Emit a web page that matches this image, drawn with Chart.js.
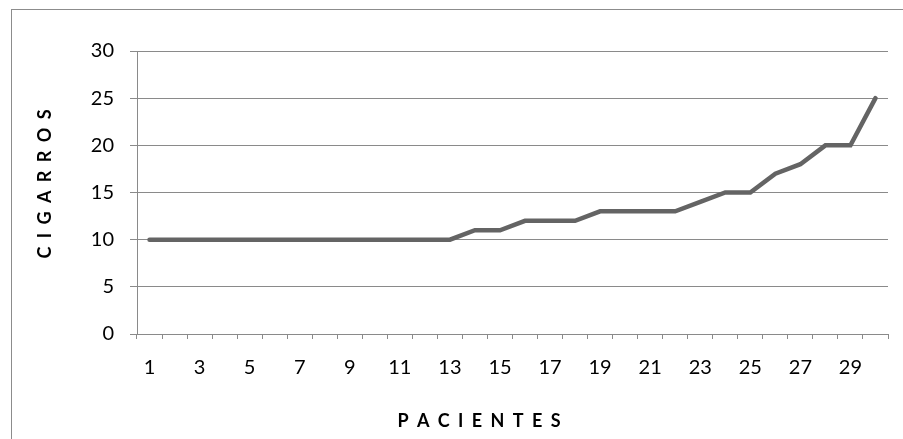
<!DOCTYPE html>
<html>
<head>
<meta charset="utf-8">
<script src="https://cdn.jsdelivr.net/npm/chart.js@4/dist/chart.umd.min.js"></script>
<style>
  html, body { margin: 0; padding: 0; background: #ffffff; }
  #wrap { width: 903px; height: 439px; position: relative; }
</style>
</head>
<body>
<div id="wrap"><canvas id="c" width="903" height="439"></canvas></div>
<script>
const categories = ['1','2','3','4','5','6','7','8','9','10','11','12','13','14','15','16','17','18','19','20','21','22','23','24','25','26','27','28','29','30'];
const cigarros = [10,10,10,10,10,10,10,10,10,10,10,10,10,11,11,12,12,12,13,13,13,13,14,15,15,17,18,20,20,25];
const yTicks = [0,5,10,15,20,25,30];
const xTitle = 'P A C I E N T E S';
const yTitle = 'C I G A R R O S';

const GRID = '#8a8a8a';
const FONT = 'Lato, "Open Sans", sans-serif';

const decor = {
  id: 'decor',
  beforeDraw(chart) {
    const ctx = chart.ctx;
    ctx.save();
    ctx.fillStyle = '#ffffff';
    ctx.fillRect(0, 0, chart.width, chart.height);
    ctx.strokeStyle = '#8c8c8c';
    ctx.lineWidth = 1;
    ctx.strokeRect(11.5, 9.5, 1000, 1000);
    ctx.restore();
  },
  afterDraw(chart) {
    const ctx = chart.ctx;
    ctx.save();
    ctx.fillStyle = '#000000';
    ctx.font = 'bold 18px ' + FONT;
    ctx.textAlign = 'center';
    ctx.textBaseline = 'middle';
    ctx.letterSpacing = '2px';
    ctx.fillText(xTitle, 480, 421);
    ctx.translate(45, 183);
    ctx.rotate(-Math.PI / 2);
    ctx.fillText(yTitle, 0, 0);
    ctx.restore();
  }
};

new Chart(document.getElementById('c'), {
  type: 'line',
  data: {
    labels: categories,
    datasets: [{
      data: cigarros,
      borderColor: '#646464',
      borderWidth: 4.5,
      borderCapStyle: 'round',
      borderJoinStyle: 'miter',
      pointRadius: 0,
      pointHoverRadius: 0,
      tension: 0,
      fill: false
    }]
  },
  options: {
    responsive: false,
    animation: false,
    events: [],
    layout: { padding: { left: 0, top: 51, right: 15, bottom: 0 } },
    plugins: { legend: { display: false }, tooltip: { enabled: false }, title: { display: false } },
    scales: {
      x: {
        type: 'category',
        offset: true,
        grid: { offset: true, drawOnChartArea: false, drawTicks: true, tickLength: 5, color: GRID, lineWidth: 1 },
        border: { display: true, color: GRID, width: 1 },
        ticks: {
          autoSkip: false, maxRotation: 0, minRotation: 0, padding: 17,
          color: '#000000', font: { family: FONT, size: 20 },
          callback: function(value, index) { return index % 2 === 0 ? this.getLabelForValue(value) : ''; }
        },
        afterFit(scale) { scale.height = 105; }
      },
      y: {
        min: 0, max: 30,
        afterBuildTicks(scale) { scale.ticks = yTicks.map(v => ({ value: v })); },
        grid: { color: GRID, lineWidth: 1, tickLength: 7, drawTicks: true },
        border: { display: true, color: GRID, width: 1 },
        ticks: { padding: 16, color: '#000000', font: { family: FONT, size: 20 } },
        afterFit(scale) { scale.width = 137; }
      }
    }
  },
  plugins: [decor]
});
</script>
</body>
</html>
